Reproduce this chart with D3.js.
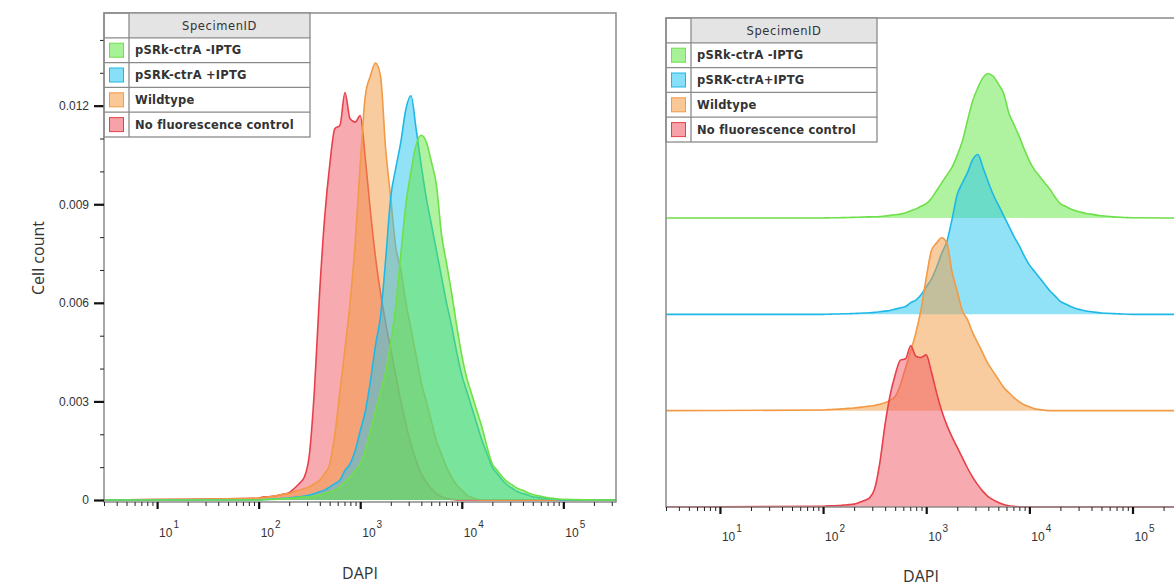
<!DOCTYPE html>
<html>
<head>
<meta charset="utf-8">
<script src="https://cdn.jsdelivr.net/npm/d3@7"></script>
<style>
  body { margin: 0; background: #fff; }
  svg { display: block; }
  .tick-lbl { font-family: "Liberation Sans", Arial, sans-serif; font-size: 12px; fill: #333; }
  .legend text { font-family: "DejaVu Sans", sans-serif; font-size: 11.5px; font-weight: bold; fill: #333; letter-spacing: 0.2px; }
  .title { font-family: "Open Sans", sans-serif; fill: #333; }
</style>
</head>
<body>
<div id="chart"></div>
<script>
// series order: top of legend first
const specimens = ["pSRk-ctrA -IPTG", "pSRK-ctrA +IPTG", "Wildtype", "No fluorescence control"];
const specimensRight = ["pSRk-ctrA -IPTG", "pSRK-ctrA+IPTG", "Wildtype", "No fluorescence control"];

// log10(DAPI) bin centres
const dapiLog = [2.00, 2.05, 2.10, 2.15, 2.20, 2.25, 2.30, 2.35, 2.40, 2.45,
                 2.50, 2.55, 2.60, 2.65, 2.70, 2.75, 2.80, 2.85, 2.90, 2.95,
                 3.00, 3.05, 3.10, 3.15, 3.20, 3.25, 3.30, 3.35, 3.40, 3.45,
                 3.50, 3.55, 3.60, 3.65, 3.70, 3.75, 3.80, 3.85, 3.90, 3.95,
                 4.00, 4.05, 4.10, 4.15, 4.20, 4.25, 4.30, 4.35, 4.40, 4.45,
                 4.50, 4.55, 4.60, 4.65, 4.70, 4.75, 4.80, 4.85, 4.90, 4.95,
                 5.00];

// normalised cell count, in thousandths
const greenCount = [0, 0.01, 0.02, 0.02, 0.03, 0.04, 0.05, 0.06, 0.08, 0.09,
                    0.1, 0.12, 0.15, 0.2, 0.25, 0.3, 0.4, 0.55, 0.7, 0.9,
                    1.1, 1.5, 2.1, 2.7, 3.3, 3.9, 4.8, 5.9, 7.5, 9.0,
                    10.0, 10.8, 11.1, 10.9, 10.3, 9.6, 8.1, 7.2, 6.3, 5.3,
                    4.4, 3.7, 3.2, 2.7, 2.2, 1.6, 1.1, 0.9, 0.7, 0.55,
                    0.45, 0.35, 0.3, 0.22, 0.17, 0.13, 0.1, 0.07, 0.05, 0.03,
                    0.02];
const blueCount = [0, 0.01, 0.02, 0.03, 0.04, 0.05, 0.06, 0.08, 0.1, 0.12,
                   0.15, 0.2, 0.25, 0.3, 0.4, 0.5, 0.6, 0.9, 1.1, 1.5,
                   2.1, 2.7, 3.6, 4.7, 5.6, 7.3, 9.2, 10.1, 10.9, 11.9,
                   12.3, 11.3, 10.2, 9.2, 8.4, 7.6, 6.8, 6.0, 5.3, 4.5,
                   3.8, 3.3, 2.8, 2.3, 1.8, 1.4, 1.0, 0.8, 0.6, 0.45,
                   0.35, 0.25, 0.2, 0.15, 0.1, 0.08, 0.06, 0.04, 0.03, 0.01,
                   0];
const orangeCount = [0.05, 0.08, 0.1, 0.12, 0.15, 0.18, 0.2, 0.25, 0.3, 0.35,
                     0.4, 0.5, 0.6, 0.8, 1.1, 2.0, 3.3, 4.6, 6.0, 7.8,
                     10.2, 12.3, 12.9, 13.3, 12.9, 10.7, 9.2, 7.7, 7.0, 6.0,
                     5.2, 4.4, 3.6, 3.0, 2.4, 1.8, 1.4, 1.0, 0.7, 0.45,
                     0.3, 0.15, 0.08, 0.03, 0, 0, 0, 0, 0, 0,
                     0, 0, 0, 0, 0, 0, 0, 0, 0, 0,
                     0];
const redCount = [0.05, 0.1, 0.1, 0.12, 0.15, 0.18, 0.22, 0.35, 0.5, 0.7,
                  1.4, 3.4, 6.3, 8.6, 10.2, 11.3, 11.4, 12.4, 11.6, 11.5,
                  11.7, 10.4, 8.8, 7.4, 6.3, 5.4, 4.6, 3.8, 3.0, 2.3,
                  1.7, 1.2, 0.8, 0.55, 0.35, 0.2, 0.1, 0.05, 0.02, 0,
                  0, 0, 0, 0, 0, 0, 0, 0, 0, 0,
                  0, 0, 0, 0, 0, 0, 0, 0, 0, 0,
                  0];

const yTicks = [0, 3, 6, 9, 12];           // thousandths
const decades = [10, 100, 1000, 10000, 100000];

const strokeColors = ["#6ee04a", "#1fb8e6", "#f29a45", "#e8404a"];
const fillColors = ["#5fe640", "#25c6f0", "#f49a40", "#ef5560"];

var series = [greenCount, blueCount, orangeCount, redCount];

const W = 1174, H = 587;
var xDomain = [3, 330000];

var svg = d3.select("#chart").append("svg")
    .attr("width", W).attr("height", H);

svg.append("rect").attr("width", W).attr("height", H).attr("fill", "#fff");

// minor tick values for a log axis
var minorTicks = [];
for (var p = 0; p <= 5; p++) {
    for (var k = 2; k <= 9; k++) {
        var v = k * Math.pow(10, p);
        if (v >= xDomain[0] && v <= xDomain[1]) minorTicks.push(v);
    }
}

function points(vals) {
    var pts = [{x: xDomain[0], v: 0}];
    for (var i = 0; i < dapiLog.length; i++) {
        pts.push({x: Math.pow(10, dapiLog[i]), v: vals[i]});
    }
    pts.push({x: xDomain[1], v: 0});
    return pts;
}

function xAxis(g, x, y0, labelY, titleX, titleY) {
    var minor = g.append("g")
        .attr("transform", "translate(0," + y0 + ")")
        .call(d3.axisBottom(x).tickValues(minorTicks).tickSize(4).tickFormat(""));
    minor.select(".domain").remove();
    minor.selectAll("line").attr("stroke", "#222").attr("stroke-width", 1);

    var major = g.append("g")
        .attr("transform", "translate(0," + y0 + ")")
        .call(d3.axisBottom(x).tickValues(decades).tickSize(7).tickFormat(""));
    major.select(".domain").remove();
    major.selectAll("line").attr("stroke", "#111").attr("stroke-width", 2.2);

    decades.forEach(function(d, i) {
        var t = g.append("text").attr("class", "tick-lbl")
            .attr("x", x(d) + 2).attr("y", labelY);
        t.append("tspan").text("10");
        t.append("tspan").attr("dy", -9).attr("dx", 1).attr("font-size", "10px").text(i + 1);
    });

    g.append("text").attr("class", "title")
        .attr("x", titleX).attr("y", titleY)
        .attr("text-anchor", "middle")
        .style("font-size", "16px")
        .text("DAPI");
}

function legend(g, x0, y0, w, labels) {
    var rowH = 24.8, colW = 25;
    var lg = g.append("g").attr("class", "legend");
    lg.append("rect").attr("x", x0 + colW).attr("y", y0)
        .attr("width", w - colW).attr("height", rowH)
        .attr("fill", "#e4e4e4");
    lg.append("rect").attr("x", x0).attr("y", y0)
        .attr("width", w).attr("height", rowH * 5)
        .attr("fill", "none")
        .attr("stroke", "#8a8a8a").attr("stroke-width", 1.3);
    lg.append("line").attr("x1", x0 + colW).attr("x2", x0 + colW)
        .attr("y1", y0).attr("y2", y0 + rowH * 5)
        .attr("stroke", "#8a8a8a").attr("stroke-width", 1.3);
    for (var r = 1; r < 5; r++) {
        lg.append("line").attr("x1", x0).attr("x2", x0 + w)
            .attr("y1", y0 + r * rowH).attr("y2", y0 + r * rowH)
            .attr("stroke", "#8a8a8a").attr("stroke-width", 1.3);
    }
    lg.append("text").attr("x", x0 + colW + (w - colW) / 2).attr("y", y0 + 16.5)
        .attr("text-anchor", "middle").style("font-weight", "normal")
        .style("letter-spacing", "0.6px").text("SpecimenID");
    labels.forEach(function(d, i) {
        var cy = y0 + rowH * (i + 1) + rowH / 2;
        lg.append("rect")
            .attr("x", x0 + colW / 2 - 7).attr("y", cy - 7)
            .attr("width", 14).attr("height", 14)
            .attr("fill", fillColors[i]).attr("fill-opacity", 0.55)
            .attr("stroke", strokeColors[i]).attr("stroke-width", 1);
        lg.append("text").attr("x", x0 + colW + 6).attr("y", cy + 4).text(d);
    });
}

// ---------- left panel: overlaid histograms ----------
var left = svg.append("g");
var xL = d3.scaleLog().domain(xDomain).range([104, 616]);
var yL = d3.scaleLinear().domain([0, 14.82]).range([500, 13]);

var areaL = d3.area()
    .x(function(d) { return xL(d.x) })
    .y0(yL(0))
    .y1(function(d) { return yL(d.v) })
    .curve(d3.curveMonotoneX);
var lineL = d3.line()
    .x(function(d) { return xL(d.x) })
    .y(function(d) { return yL(d.v) })
    .curve(d3.curveMonotoneX);

for (var j = series.length - 1; j >= 0; j--) {
    var pts = points(series[j]);
    left.append("path").datum(pts)
        .attr("d", areaL)
        .attr("fill", fillColors[j]).attr("fill-opacity", 0.5);
    left.append("path").datum(pts)
        .attr("d", lineL)
        .attr("fill", "none")
        .attr("stroke", strokeColors[j]).attr("stroke-width", 1.6);
}

left.append("rect").attr("x", 104).attr("y", 13)
    .attr("width", 512).attr("height", 489)
    .attr("fill", "none").attr("stroke", "#8a8a8a").attr("stroke-width", 1.5);

var yMinor = left.append("g").attr("transform", "translate(104,0)")
    .call(d3.axisLeft(yL).tickValues(d3.range(0, 15)).tickSize(4).tickFormat(""));
yMinor.select(".domain").remove();
yMinor.selectAll("line").attr("stroke", "#222");

var yMajor = left.append("g").attr("transform", "translate(104,0)")
    .call(d3.axisLeft(yL).tickValues(yTicks).tickSize(10).tickPadding(5)
        .tickFormat(function(d) { return d === 0 ? "0" : d3.format(".3f")(d / 1000) }));
yMajor.select(".domain").remove();
yMajor.selectAll("line").attr("stroke", "#111").attr("stroke-width", 2.2);
yMajor.selectAll("text").attr("class", "tick-lbl").attr("font-family", null).attr("font-size", null);

left.append("text").attr("class", "title")
    .attr("transform", "translate(44,258) rotate(-90)")
    .attr("text-anchor", "middle")
    .style("font-size", "16px")
    .text("Cell count");

xAxis(left, xL, 502, 537, 360, 579);
legend(left, 104, 13, 206, specimens);

// ---------- right panel: offset histograms ----------
var right = svg.append("g");
var xR = d3.scaleLog().domain(xDomain).range([666, 1186]);
var baseR = d3.scaleLinear().domain([0, 3]).range([218, 507]);  // row index -> baseline
var hR = d3.scaleLinear().domain([0, 10]).range([0, 130]);

for (var i = 0; i < series.length; i++) {
    var b = baseR(i);
    var ptsR = points(series[i]);
    var areaR = d3.area()
        .x(function(d) { return xR(d.x) })
        .y0(b)
        .y1(function(d) { return b - hR(d.v) })
        .curve(d3.curveMonotoneX);
    var lineR = d3.line()
        .x(function(d) { return xR(d.x) })
        .y(function(d) { return b - hR(d.v) })
        .curve(d3.curveMonotoneX);
    right.append("path").datum(ptsR).attr("d", areaR)
        .attr("fill", fillColors[i]).attr("fill-opacity", 0.5);
    right.append("path").datum(ptsR).attr("d", lineR)
        .attr("fill", "none")
        .attr("stroke", strokeColors[i]).attr("stroke-width", 1.6);
}

right.append("rect").attr("x", 666).attr("y", 18)
    .attr("width", 620).attr("height", 489)
    .attr("fill", "none").attr("stroke", "#8a8a8a").attr("stroke-width", 1.5);

xAxis(right, xR, 507, 541, 921, 582);
legend(right, 666, 18, 211, specimensRight);
</script>
</body>
</html>
